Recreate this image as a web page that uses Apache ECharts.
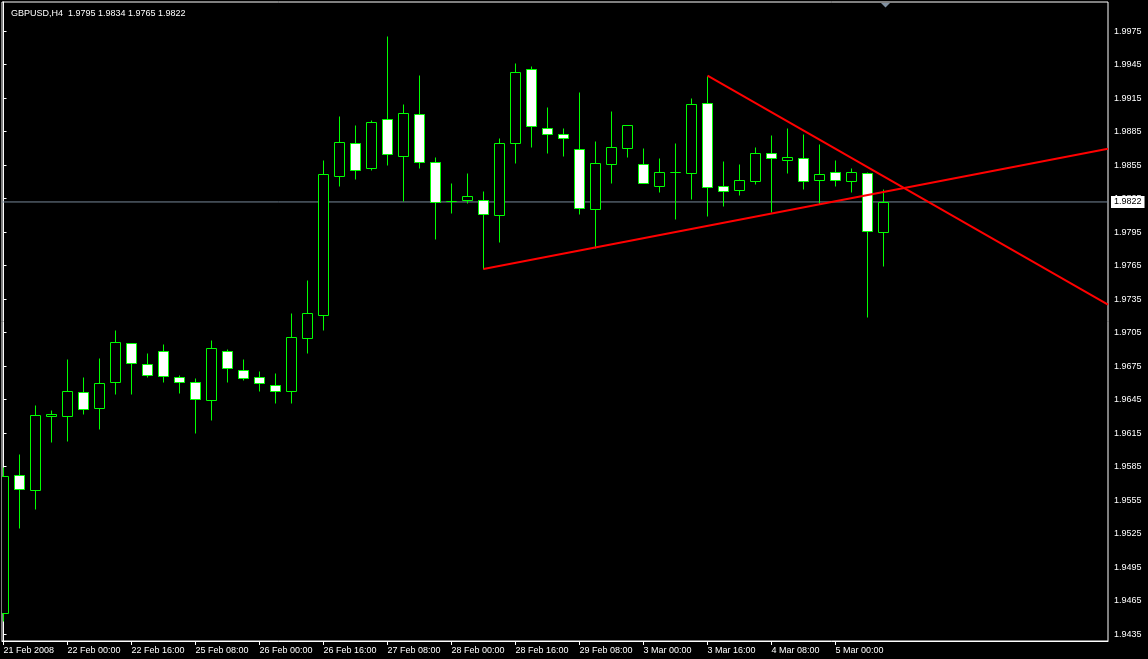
<!DOCTYPE html>
<html>
<head>
<meta charset="utf-8">
<script src="https://cdn.jsdelivr.net/npm/echarts@6/dist/echarts.min.js"></script>
<style>
  html, body { margin: 0; padding: 0; background: #000; }
  #chart { width: 1148px; height: 659px; }
</style>
</head>
<body>
<div id="chart"></div>
<script>
// ---- Data (GBPUSD, H4) ----
const opens  = [1.9454,1.9578,1.9564,1.9630,1.9630,1.9652,1.9638,1.9661,1.9696,1.9677,
                1.9689,1.9665,1.9661,1.9645,1.9689,1.9672,1.9665,1.9658,1.9653,1.9700,
                1.9721,1.9845,1.9875,1.9852,1.9896,1.9863,1.9901,1.9858,1.9823,1.9824,
                1.9824,1.9810,1.9875,1.9941,1.9888,1.9883,1.9869,1.9816,1.9856,1.9870,
                1.9856,1.9836,1.9849,1.9848,1.9911,1.9836,1.9833,1.9841,1.9866,1.9860,
                1.9861,1.9842,1.9849,1.9841,1.9848,1.9795];
const highs  = [1.9585,1.9596,1.9640,1.9636,1.9681,1.9665,1.9682,1.9707,1.9696,1.9687,
                1.9695,1.9667,1.9664,1.9698,1.9690,1.9681,1.9671,1.9669,1.9723,1.9752,
                1.9860,1.9899,1.9891,1.9895,1.9971,1.9910,1.9936,1.9862,1.9839,1.9848,
                1.9832,1.9879,1.9946,1.9944,1.9907,1.9888,1.9920,1.9877,1.9903,1.9891,
                1.9870,1.9861,1.9875,1.9915,1.9935,1.9859,1.9856,1.9871,1.9882,1.9888,
                1.9883,1.9874,1.9860,1.9852,1.9849,1.9834];
const lows   = [1.9447,1.9530,1.9547,1.9607,1.9608,1.9632,1.9619,1.9650,1.9650,1.9665,
                1.9661,1.9651,1.9615,1.9627,1.9661,1.9663,1.9653,1.9642,1.9642,1.9687,
                1.9707,1.9836,1.9843,1.9851,1.9855,1.9823,1.9852,1.9789,1.9812,1.9821,
                1.9762,1.9786,1.9857,1.9871,1.9866,1.9863,1.9811,1.9781,1.9839,1.9862,
                1.9839,1.9831,1.9807,1.9825,1.9809,1.9818,1.9828,1.9838,1.9813,1.9848,
                1.9834,1.9820,1.9836,1.9831,1.9719,1.9765];
const closes = [1.9577,1.9565,1.9631,1.9632,1.9653,1.9637,1.9660,1.9697,1.9678,1.9667,
                1.9666,1.9661,1.9646,1.9691,1.9673,1.9664,1.9660,1.9653,1.9701,1.9723,
                1.9847,1.9876,1.9851,1.9894,1.9865,1.9902,1.9858,1.9822,1.9823,1.9827,
                1.9811,1.9875,1.9938,1.9890,1.9883,1.9879,1.9817,1.9857,1.9871,1.9891,
                1.9839,1.9849,1.9849,1.9910,1.9835,1.9832,1.9842,1.9866,1.9861,1.9862,
                1.9841,1.9847,1.9842,1.9849,1.9796,1.9822];

// time-axis tick labels (every 4 bars)
const xTickBars   = [0,4,8,12,16,20,24,28,32,36,40,44,48,52];
const xTickLabels = ["21 Feb 2008","22 Feb 00:00","22 Feb 16:00","25 Feb 08:00","26 Feb 00:00",
                     "26 Feb 16:00","27 Feb 08:00","28 Feb 00:00","28 Feb 16:00","29 Feb 08:00",
                     "3 Mar 00:00","3 Mar 16:00","4 Mar 08:00","5 Mar 00:00"];
// price tick labels
const yTicks = [1.9435,1.9465,1.9495,1.9525,1.9555,1.9585,1.9615,1.9645,1.9675,1.9705,
                1.9735,1.9765,1.9795,1.9825,1.9855,1.9885,1.9915,1.9945,1.9975];
const currentPrice = 1.9822;
const headerText = "GBPUSD,H4  1.9795 1.9834 1.9765 1.9822";
// trend lines: two anchor points each (bar index, price), drawn as rays to the right
const trendUp   = [[30, 1.9762], [55, 1.9831]];
const trendDown = [[44, 1.9935], [55, 1.9845]];

// ---- Chart ----
const X_MIN = -0.09375, X_MAX = 69.03125;
const Y_MIN = 1.9429, Y_MAX = 2.0001;
const FONT = 'Liberation Sans';

const candleData = opens.map((o, i) => [i, o, closes[i], lows[i], highs[i]]);

function ray(pts) {
  const [a, b] = pts;
  const slope = (b[1] - a[1]) / (b[0] - a[0]);
  return [a, [X_MAX, a[1] + slope * (X_MAX - a[0])]];
}

const chart = echarts.init(document.getElementById('chart'), null, { renderer: 'canvas' });

chart.setOption({
  animation: false,
  backgroundColor: '#000',
  title: {
    text: headerText,
    left: 6, top: 4,
    textStyle: { color: '#fff', fontSize: 9, fontWeight: 'normal', fontFamily: FONT }
  },
  grid: {
    left: 2, right: 40, top: 2, bottom: 18,
    show: true, borderColor: '#fff', borderWidth: 1, backgroundColor: 'transparent'
  },
  xAxis: {
    type: 'value', min: X_MIN, max: X_MAX,
    axisLine: { show: true, lineStyle: { color: '#fff', width: 1 } },
    axisTick: { show: true, customValues: xTickBars, length: 4, lineStyle: { color: '#fff' } },
    axisLabel: {
      show: true, customValues: xTickBars, color: '#fff', fontSize: 9, fontFamily: FONT,
      align: 'left', margin: 5,
      formatter: v => { const k = xTickBars.indexOf(Math.round(v)); return k >= 0 ? xTickLabels[k] : ''; }
    },
    splitLine: { show: false }
  },
  yAxis: {
    type: 'value', position: 'right', min: Y_MIN, max: Y_MAX,
    axisLine: { show: true, lineStyle: { color: '#fff', width: 1 } },
    axisTick: { show: true, customValues: yTicks, length: 3, inside: false, lineStyle: { color: '#fff' } },
    axisLabel: {
      show: true, customValues: yTicks, color: '#fff', fontSize: 9, fontFamily: FONT, margin: 6,
      formatter: v => v.toFixed(4)
    },
    splitLine: { show: false }
  },
  series: [
    {
      // current price line with its label on the price scale
      type: 'line', z: 1, silent: true, showSymbol: false, clip: true,
      data: [[X_MIN, currentPrice], [X_MAX, currentPrice]],
      lineStyle: { color: '#778899', width: 1 },
      endLabel: {
        show: true, distance: 3,
        formatter: () => currentPrice.toFixed(4),
        backgroundColor: '#fff', color: '#000', padding: [2, 3, 1, 3],
        fontSize: 9, fontFamily: FONT
      }
    },
    {
      type: 'custom', z: 2, clip: true,
      encode: { x: 0, y: [1, 2, 3, 4] },
      data: candleData,
      renderItem: function (params, api) {
        const i = api.value(0), o = api.value(1), c = api.value(2), l = api.value(3), h = api.value(4);
        const pO = api.coord([i, o]), pC = api.coord([i, c]);
        const pH = api.coord([i, h]), pL = api.coord([i, l]);
        const cx = Math.floor(pO[0]) + 0.5;
        const yTop = Math.round(Math.min(pO[1], pC[1])) + 0.5;
        const yBot = Math.round(Math.max(pO[1], pC[1])) + 0.5;
        const yH = Math.round(pH[1]) + 0.5, yL = Math.round(pL[1]) + 0.5;
        const bear = c < o;
        return {
          type: 'group',
          children: [
            { type: 'line', shape: { x1: cx, y1: yH, x2: cx, y2: yL },
              style: { stroke: '#00ff00', lineWidth: 1 } },
            { type: 'rect', shape: { x: cx - 5, y: yTop, width: 10, height: yBot - yTop },
              style: { fill: bear ? '#ffffff' : '#000000', stroke: '#00ff00', lineWidth: 1 } }
          ]
        };
      }
    },
    {
      type: 'line', z: 3, clip: true, silent: true, showSymbol: false,
      data: ray(trendUp),
      lineStyle: { color: '#ff0000', width: 2 }
    },
    {
      type: 'line', z: 3, clip: true, silent: true, showSymbol: false,
      data: ray(trendDown),
      lineStyle: { color: '#ff0000', width: 2 }
    }
  ],
  graphic: [
    { type: 'polygon', z: 10, silent: true,
      shape: { points: [[881, 3], [890, 3], [885.5, 7.5]] },
      style: { fill: '#8090a0' } }
  ]
});
</script>
</body>
</html>
